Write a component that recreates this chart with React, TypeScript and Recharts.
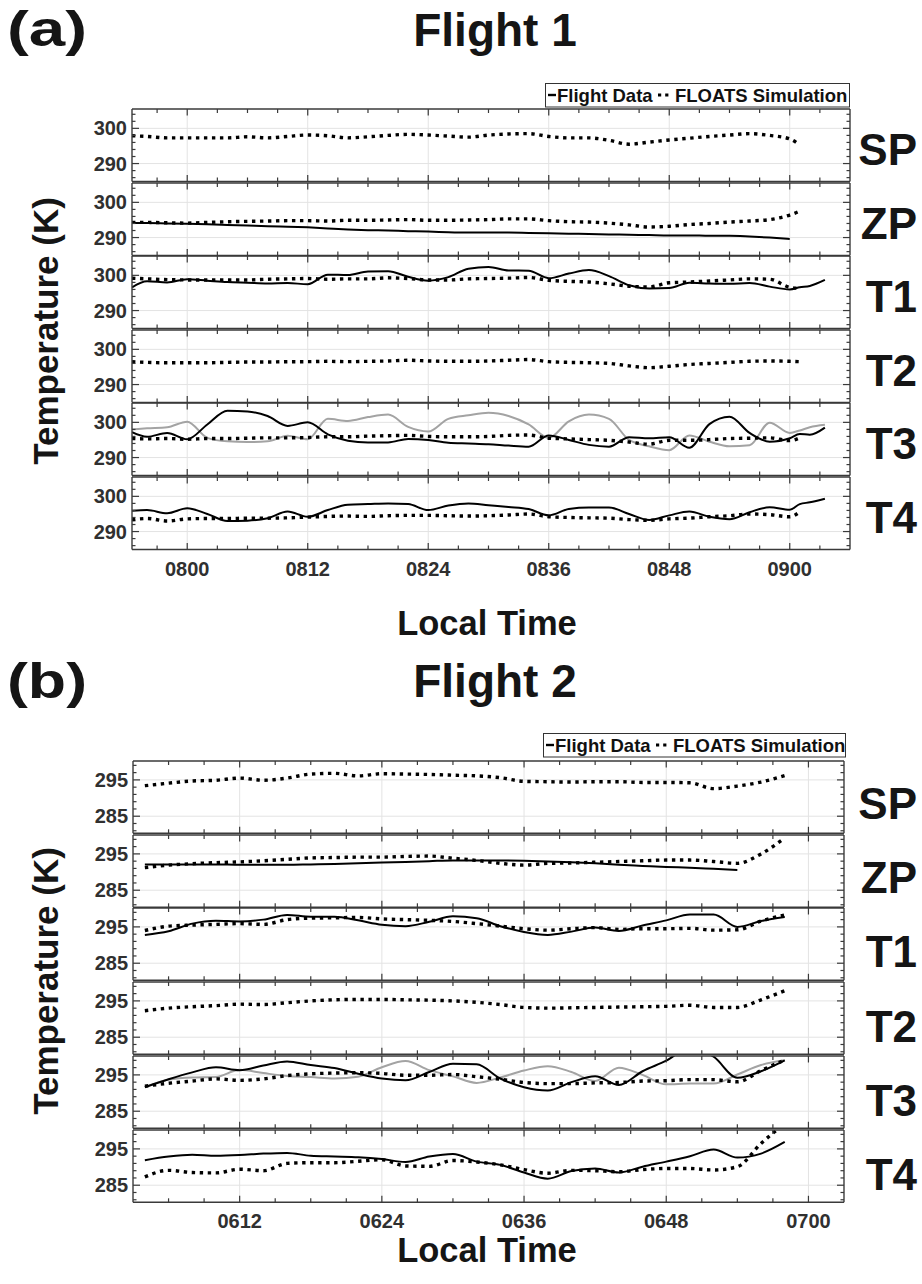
import React from "react";
import { LineChart, Line, XAxis, YAxis, CartesianGrid } from "recharts";

const FONT = "'Liberation Sans', Arial, Helvetica, sans-serif";
const FRAME = "#3a3a3a";

// ---- Flight 1 (minutes after midnight) ----
const TIME_1 = [
  474.5, 476, 478, 480, 482, 484, 486, 488, 490, 492, 494, 496, 498, 500, 502, 504, 506, 508, 510,
  512, 514, 516, 518, 520, 522, 524, 526, 528, 530, 532, 534, 536, 538, 540, 541, 542, 543.5,
];
const SP_SIM_1 = [
  297.9, 297.7, 297.3, 297.3, 297.3, 297.3, 297.6, 297.3, 297.7, 298.1, 297.9, 297.3, 297.6, 298.0,
  298.3, 298.1, 297.8, 297.5, 298.1, 298.4, 298.5, 297.7, 297.3, 297.3, 296.6, 295.5, 296.1, 296.7,
  297.2, 297.7, 298.1, 298.5, 298.0, 297.0, 295.3, null, null,
];
const ZP_FLT_1 = [
  294.1, 294.1, 294.0, 293.9, 293.8, 293.6, 293.4, 293.2, 293.1, 292.9, 292.6, 292.3, 292.1, 292.0,
  291.8, 291.7, 291.5, 291.4, 291.4, 291.4, 291.3, 291.2, 291.1, 291.0, 290.9, 290.8, 290.7, 290.6,
  290.6, 290.5, 290.5, 290.3, 290.0, 289.6, null, null, null,
];
const ZP_SIM_1 = [
  294.3, 294.3, 294.2, 294.1, 294.3, 294.5, 294.6, 294.7, 294.8, 294.8, 294.7, 294.9, 294.9, 295.0,
  295.1, 294.9, 294.9, 295.0, 295.1, 295.3, 295.3, 294.8, 294.5, 294.4, 294.1, 293.6, 293.0, 293.2,
  293.7, 294.0, 294.4, 294.7, 295.1, 296.4, 297.5, null, null,
];
const T1_FLT_1 = [
  296.6, 298.3, 298.0, 298.9, 298.5, 298.1, 297.9, 297.7, 297.8, 297.5, 300.2, 300.1, 301.1, 301.2,
  299.6, 298.5, 299.5, 301.9, 302.4, 301.4, 301.3, 299.2, 300.5, 301.5, 299.8, 297.2, 296.3, 296.4,
  297.9, 297.7, 297.6, 297.8, 296.8, 296.0, 296.6, 297.0, 298.7,
];
const T1_SIM_1 = [
  299.2, 299.0, 298.8, 298.7, 298.7, 298.7, 298.7, 298.9, 299.0, 299.1, 298.9, 299.0, 299.0, 299.3,
  299.1, 298.7, 298.7, 299.0, 299.1, 299.2, 299.4, 298.6, 298.3, 298.1, 297.6, 296.9, 296.7, 297.9,
  298.1, 298.4, 298.7, 299.0, 298.9, 296.6, 296.3, null, null,
];
const T2_SIM_1 = [
  296.5, 296.3, 296.2, 296.2, 296.2, 296.3, 296.4, 296.4, 296.5, 296.5, 296.6, 296.5, 296.6, 296.7,
  296.9, 296.7, 296.6, 296.6, 296.7, 296.9, 297.1, 296.5, 296.3, 296.2, 296.0, 295.3, 294.8, 295.2,
  295.7, 296.0, 296.3, 296.6, 296.7, 296.6, 296.5, null, null,
];
const T3_FLT_1 = [
  297.2, 295.9, 297.0, 295.2, 299.4, 303.3, 303.1, 301.8, 299.0, 300.0, 296.6, 294.8, 294.3, 294.3,
  295.3, 295.0, 294.2, 294.0, 293.8, 293.4, 293.1, 296.3, 295.0, 293.6, 293.1, 295.8, 295.5, 295.8,
  292.8, 299.5, 301.6, 297.0, 294.5, 295.5, 296.7, 296.5, 298.5,
];
const T3_ALT_1 = [
  298.0, 298.3, 298.6, 300.2, 295.6, 294.6, 294.4, 294.6, 296.2, 295.2, 301.0, 300.4, 301.5, 302.2,
  298.7, 297.4, 301.0, 302.0, 302.7, 301.8, 299.4, 295.6, 300.3, 302.2, 301.0, 295.0, 293.2, 292.1,
  296.3, 294.5, 293.2, 293.5, 299.9, 297.0, 297.7, 298.6, 299.3,
];
const T3_SIM_1 = [
  295.4, 295.3, 295.4, 295.2, 295.4, 295.4, 295.5, 295.6, 295.6, 295.7, 295.9, 295.9, 296.1, 296.2,
  296.3, 296.0, 295.9, 295.9, 296.0, 296.3, 296.4, 295.5, 295.3, 295.1, 294.9, 294.4, 293.8, 294.9,
  294.9, 295.1, 295.4, 295.5, 295.6, 294.8, 295.6, null, null,
];
const T4_FLT_1 = [
  295.9, 296.1, 295.2, 296.6, 295.0, 293.0, 293.1, 293.8, 295.7, 294.2, 296.1, 297.6, 297.8, 298.0,
  297.8, 296.1, 297.4, 298.0, 297.5, 297.0, 296.4, 294.6, 296.4, 296.8, 296.8, 295.0, 293.3, 294.6,
  295.7, 294.2, 293.5, 295.5, 296.9, 296.2, 297.8, 298.3, 299.3,
];
const T4_SIM_1 = [
  293.3, 293.7, 293.0, 293.6, 293.7, 293.7, 293.8, 293.8, 293.9, 294.1, 294.3, 294.4, 294.3, 294.5,
  294.6, 294.6, 294.5, 294.4, 294.5, 294.7, 295.0, 294.2, 294.0, 293.9, 293.8, 293.4, 293.2, 293.6,
  293.8, 294.2, 294.5, 295.0, 294.8, 294.2, 295.6, null, null,
];

// ---- Flight 2 ----
const TIME_2 = [
  364, 366, 368, 370, 372, 374, 376, 378, 380, 382, 384, 386, 388, 390, 392, 394, 396, 398, 400,
  402, 404, 406, 408, 410, 412, 414, 416, 418,
];
const SP_SIM_2 = [
  293.4, 294.1, 294.7, 294.9, 295.5, 294.9, 295.5, 296.6, 296.8, 296.1, 296.7, 296.6, 296.5, 296.3,
  296.1, 295.6, 294.6, 294.5, 294.4, 294.5, 294.5, 294.3, 294.3, 294.2, 292.6, 293.3, 294.4, 296.2,
];
const ZP_FLT_2 = [
  292.1, 292.1, 292.1, 292.1, 292.0, 292.0, 292.0, 292.1, 292.2, 292.4, 292.6, 292.8, 293.0, 293.2,
  293.2, 293.2, 293.1, 292.9, 292.7, 292.4, 292.0, 291.7, 291.4, 291.2, 290.9, 290.6, null, null,
];
const ZP_SIM_2 = [
  291.2, 291.9, 292.3, 292.6, 292.8, 293.1, 293.5, 293.9, 294.0, 294.1, 294.1, 294.3, 294.4, 293.8,
  293.2, 292.4, 291.9, 292.4, 292.5, 292.7, 292.9, 293.1, 293.3, 293.3, 292.9, 292.4, 295.0, 299.4,
];
const T1_FLT_2 = [
  292.8, 293.8, 295.9, 296.7, 296.5, 297.0, 298.3, 297.8, 297.8, 296.8, 295.6, 295.2, 296.4, 297.9,
  297.4, 295.2, 293.6, 292.8, 293.7, 294.8, 293.9, 295.4, 296.8, 298.4, 298.4, 295.0, 296.6, 297.7,
];
const T1_SIM_2 = [
  294.0, 295.2, 295.5, 295.7, 295.9, 295.7, 297.0, 297.4, 297.5, 297.6, 297.2, 297.0, 296.8, 296.5,
  295.9, 295.2, 294.5, 294.1, 294.5, 294.8, 294.3, 294.5, 294.5, 294.6, 294.1, 294.2, 296.6, 298.3,
];
const T2_SIM_2 = [
  292.3, 293.0, 293.4, 293.7, 294.1, 294.0, 294.5, 295.0, 295.3, 295.4, 295.4, 295.3, 295.2, 295.0,
  294.6, 294.0, 293.2, 293.0, 293.1, 293.2, 293.3, 293.4, 293.5, 293.8, 293.2, 293.2, 295.3, 297.8,
];
const T3_FLT_2 = [
  291.6, 293.8, 295.7, 297.1, 296.3, 297.6, 298.7, 297.7, 296.9, 295.3, 294.0, 293.5, 295.8, 298.1,
  297.9, 294.0, 291.6, 290.7, 293.0, 294.6, 292.2, 296.0, 298.9, 302.5, 300.0, 294.2, 296.0, 299.0,
];
const T3_ALT_2 = [
  291.7, 293.7, 294.3, 294.4, 296.4, 295.5, 294.7, 294.4, 294.0, 294.5, 297.1, 298.8, 296.3, 294.6,
  292.8, 294.3, 296.2, 297.4, 295.8, 293.3, 297.0, 295.0, 292.4, 292.6, 292.6, 295.1, 297.7, 299.0,
];
const T3_SIM_2 = [
  291.9, 292.7, 293.3, 293.9, 293.5, 293.9, 294.8, 295.3, 295.5, 295.6, 295.4, 294.9, 294.9, 295.1,
  294.5, 293.8, 292.9, 292.6, 292.6, 292.8, 292.9, 293.3, 293.4, 293.7, 293.7, 293.1, 296.2, 299.1,
];
const T4_FLT_2 = [
  291.9, 292.9, 293.4, 293.1, 293.3, 293.7, 293.9, 293.1, 292.9, 292.7, 292.2, 291.4, 292.9, 293.6,
  291.5, 290.6, 288.5, 286.8, 288.9, 289.6, 288.5, 290.1, 291.5, 293.0, 294.8, 292.6, 293.7, 296.9,
];
const T4_SIM_2 = [
  287.3, 289.1, 288.5, 288.4, 289.4, 289.0, 291.0, 291.2, 291.2, 291.6, 292.0, 290.3, 290.2, 291.8,
  291.4, 290.6, 289.3, 288.3, 289.1, 289.0, 288.7, 289.3, 289.6, 289.6, 289.2, 290.1, 296.5, 302.0,
];

// ---- axis ticks ----
const X_TICKS_1 = [477, 480, 483, 486, 489, 492, 495, 498, 501, 504, 507, 510, 513, 516, 519, 522, 525, 528, 531, 534, 537, 540, 543];
const X_MAJOR_1 = [480, 492, 504, 516, 528, 540];
const Y_TICKS_1 = [286, 288, 290, 292, 294, 296, 298, 300, 302, 304];
const Y_MAJOR_1 = [290, 300];

const X_TICKS_2 = [366, 369, 372, 375, 378, 381, 384, 387, 390, 393, 396, 399, 402, 405, 408, 411, 414, 417, 420];
const X_MAJOR_2 = [372, 384, 396, 408, 420];
const Y_TICKS_2 = [281, 283, 285, 287, 289, 291, 293, 295, 297, 299];
const Y_MAJOR_2 = [285, 295];

const PANELS = ["SP", "ZP", "T1", "T2", "T3", "T4"];

type Row = { t: number; [key: string]: number | null };

function buildRows(time: number[], s: Record<string, (number | null)[]>): Row[] {
  return time.map((t, i) => {
    const row: Row = { t };
    Object.keys(s).forEach((k) => (row[k] = s[k][i]));
    return row;
  });
}

const rows1 = buildRows(TIME_1, {
  SP_sim: SP_SIM_1,
  ZP_flt: ZP_FLT_1, ZP_sim: ZP_SIM_1,
  T1_flt: T1_FLT_1, T1_sim: T1_SIM_1,
  T2_sim: T2_SIM_1,
  T3_alt: T3_ALT_1, T3_flt: T3_FLT_1, T3_sim: T3_SIM_1,
  T4_flt: T4_FLT_1, T4_sim: T4_SIM_1,
});
const rows2 = buildRows(TIME_2, {
  SP_sim: SP_SIM_2,
  ZP_flt: ZP_FLT_2, ZP_sim: ZP_SIM_2,
  T1_flt: T1_FLT_2, T1_sim: T1_SIM_2,
  T2_sim: T2_SIM_2,
  T3_alt: T3_ALT_2, T3_flt: T3_FLT_2, T3_sim: T3_SIM_2,
  T4_flt: T4_FLT_2, T4_sim: T4_SIM_2,
});

type Figure = {
  rows: Row[];
  left: number;
  width: number;
  top: number;
  step: number;
  height: number;
  xDomain: [number, number];
  yDomain: [number, number];
  xTicks: number[];
  xMajor: number[];
  yTicks: number[];
  yMajor: number[];
};

const FIG_1: Figure = {
  rows: rows1, left: 132, width: 718, top: 109, step: 73.5, height: 72.5,
  xDomain: [474.5, 546], yDomain: [284.9, 305.5],
  xTicks: X_TICKS_1, xMajor: X_MAJOR_1, yTicks: Y_TICKS_1, yMajor: Y_MAJOR_1,
};
const FIG_2: Figure = {
  rows: rows2, left: 133, width: 711, top: 760.7, step: 73.8, height: 72.3,
  xDomain: [363, 423], yDomain: [280.3, 300.2],
  xTicks: X_TICKS_2, xMajor: X_MAJOR_2, yTicks: Y_TICKS_2, yMajor: Y_MAJOR_2,
};

const YW = 52; // left axis width (tick labels)
const XH = 36; // bottom axis height on the last panel
const PAD = 3;

const labelStyle = { fontSize: 20, fontWeight: 700, fill: "#303030", fontFamily: FONT };

function hhmm(m: number) {
  const h = Math.floor(m / 60);
  const mm = Math.round(m - h * 60);
  return String(h).padStart(2, "0") + String(mm).padStart(2, "0");
}

// inward frame ticks; dir points into the plot area
function xTick(major: number[], dir: number, labelled: boolean) {
  return (p: any) => {
    const v = p.payload.value;
    const big = major.includes(v);
    return (
      <g>
        <line x1={p.x} x2={p.x} y1={p.y} y2={p.y + dir * (big ? 6.5 : 4)} stroke={FRAME} strokeWidth={1.2} />
        {labelled && big && (
          <text x={p.x} y={p.y + 26} textAnchor="middle" {...labelStyle}>
            {hhmm(v)}
          </text>
        )}
      </g>
    );
  };
}

function yTick(major: number[], dir: number, labelled: boolean) {
  return (p: any) => {
    const v = p.payload.value;
    const big = major.includes(v);
    return (
      <g>
        <line x1={p.x} x2={p.x + dir * (big ? 7 : 3.5)} y1={p.y} y2={p.y} stroke={FRAME} strokeWidth={1.2} />
        {labelled && big && (
          <text x={p.x - 5} y={p.y + 7} textAnchor="end" {...labelStyle}>
            {v}
          </text>
        )}
      </g>
    );
  };
}

const frameLine = { stroke: FRAME, strokeWidth: 1.4 };

function Panel({ fig, index }: { fig: Figure; index: number }) {
  const name = PANELS[index];
  const last = index === PANELS.length - 1;
  const top = fig.top + index * fig.step;
  const has = (k: string) => fig.rows[0][`${name}_${k}`] !== undefined;

  // top / right axes are 1px wide so they still get drawn
  return (
    <div style={{ position: "absolute", left: fig.left - YW, top: top - PAD - 1 }}>
      <LineChart
        width={YW + fig.width + 1 + PAD}
        height={PAD + 1 + fig.height + (last ? XH : 1) + PAD}
        data={fig.rows}
        margin={{ top: PAD, right: PAD, bottom: PAD, left: 0 }}
      >
        <CartesianGrid
          xAxisId="b"
          yAxisId="l"
          stroke="#e3e3e3"
          strokeWidth={1}
          horizontalValues={fig.yMajor}
          verticalValues={fig.xMajor}
        />
        <XAxis
          xAxisId="b"
          dataKey="t"
          type="number"
          orientation="bottom"
          domain={fig.xDomain}
          allowDataOverflow
          ticks={fig.xTicks}
          interval={0}
          height={last ? XH : 1}
          tickSize={0}
          tickMargin={0}
          tickLine={false}
          axisLine={frameLine}
          tick={xTick(fig.xMajor, -1, last)}
        />
        <XAxis
          xAxisId="t"
          dataKey="t"
          type="number"
          orientation="top"
          domain={fig.xDomain}
          allowDataOverflow
          ticks={fig.xTicks}
          interval={0}
          height={1}
          tickSize={0}
          tickMargin={0}
          tickLine={false}
          axisLine={frameLine}
          tick={xTick(fig.xMajor, 1, false)}
        />
        <YAxis
          yAxisId="l"
          type="number"
          orientation="left"
          domain={fig.yDomain}
          allowDataOverflow
          ticks={fig.yTicks}
          interval={0}
          width={YW}
          tickSize={0}
          tickMargin={0}
          tickLine={false}
          axisLine={frameLine}
          tick={yTick(fig.yMajor, 1, true)}
        />
        <YAxis
          yAxisId="r"
          type="number"
          orientation="right"
          domain={fig.yDomain}
          allowDataOverflow
          ticks={fig.yTicks}
          interval={0}
          width={1}
          tickSize={0}
          tickMargin={0}
          tickLine={false}
          axisLine={frameLine}
          tick={yTick(fig.yMajor, -1, false)}
        />
        {has("alt") && (
          <Line
            xAxisId="b" yAxisId="l" dataKey={`${name}_alt`} type="monotone"
            stroke="#a3a3a3" strokeWidth={2} dot={false} activeDot={false} isAnimationActive={false}
          />
        )}
        {has("flt") && (
          <Line
            xAxisId="b" yAxisId="l" dataKey={`${name}_flt`} type="monotone"
            stroke="#000" strokeWidth={2} dot={false} activeDot={false} isAnimationActive={false}
          />
        )}
        {has("sim") && (
          <Line
            xAxisId="b" yAxisId="l" dataKey={`${name}_sim`} type="monotone"
            stroke="#000" strokeWidth={3.4} strokeDasharray="3.4 4.6" dot={false} activeDot={false}
            isAnimationActive={false}
          />
        )}
      </LineChart>
    </div>
  );
}

function LegendBox({ x, y, w }: { x: number; y: number; w: number }) {
  const mid = y + 12;
  const txt = { fontSize: 18.5, fontWeight: 700, fontFamily: FONT, fill: "#111" };
  return (
    <g>
      <rect x={x + 0.5} y={y + 0.5} width={w} height={23.5} fill="#fff" stroke="#333" strokeWidth={1} />
      <line x1={x + 3} x2={x + 11} y1={mid} y2={mid} stroke="#000" strokeWidth={2.4} />
      <text x={x + 12} y={mid + 7} {...txt}>Flight Data</text>
      <line x1={x + 113} x2={x + 125} y1={mid} y2={mid} stroke="#000" strokeWidth={3.2} strokeDasharray="3.2 4" />
      <text x={x + 130} y={mid + 7} {...txt}>FLOATS Simulation</text>
    </g>
  );
}

function Texts() {
  const big = { fontWeight: 700, fontFamily: FONT, fill: "#151515" };
  const panelMid = (fig: Figure, i: number) => fig.top + i * fig.step + fig.height / 2;
  return (
    <svg width={922} height={1284} style={{ position: "absolute", left: 0, top: 0, pointerEvents: "none" }}>
      <text x={7} y={46} fontSize={50} textLength={80} lengthAdjust="spacingAndGlyphs" {...big}>(a)</text>
      <text x={495} y={46} fontSize={46} textAnchor="middle" {...big}>Flight 1</text>
      <text x={7} y={698} fontSize={50} textLength={80} lengthAdjust="spacingAndGlyphs" {...big}>(b)</text>
      <text x={495} y={697} fontSize={46} textAnchor="middle" {...big}>Flight 2</text>

      <text x={0} y={0} fontSize={35} textAnchor="middle" transform="translate(58 331) rotate(-90)" {...big}>
        Temperature (K)
      </text>
      <text x={0} y={0} fontSize={35} textAnchor="middle" transform="translate(58 981) rotate(-90)" {...big}>
        Temperature (K)
      </text>

      <text x={487} y={635} fontSize={34.5} textAnchor="middle" {...big}>Local Time</text>
      <text x={487} y={1262} fontSize={34.5} textAnchor="middle" {...big}>Local Time</text>

      {PANELS.map((p, i) => (
        <text key={`a${p}`} x={917} y={panelMid(FIG_1, i) + 20} fontSize={44} textAnchor="end" {...big}>{p}</text>
      ))}
      {PANELS.map((p, i) => (
        <text key={`b${p}`} x={917} y={panelMid(FIG_2, i) + 22 + i * 0.5} fontSize={44} textAnchor="end" {...big}>{p}</text>
      ))}

      <LegendBox x={545} y={83} w={304} />
      <LegendBox x={543} y={733} w={302} />
    </svg>
  );
}

export default function App() {
  return (
    <div style={{ position: "absolute", left: 0, top: 0, width: 922, height: 1284, background: "#fff", fontFamily: FONT }}>
      {PANELS.map((p, i) => (
        <Panel key={`f1${p}`} fig={FIG_1} index={i} />
      ))}
      {PANELS.map((p, i) => (
        <Panel key={`f2${p}`} fig={FIG_2} index={i} />
      ))}
      <Texts />
    </div>
  );
}
